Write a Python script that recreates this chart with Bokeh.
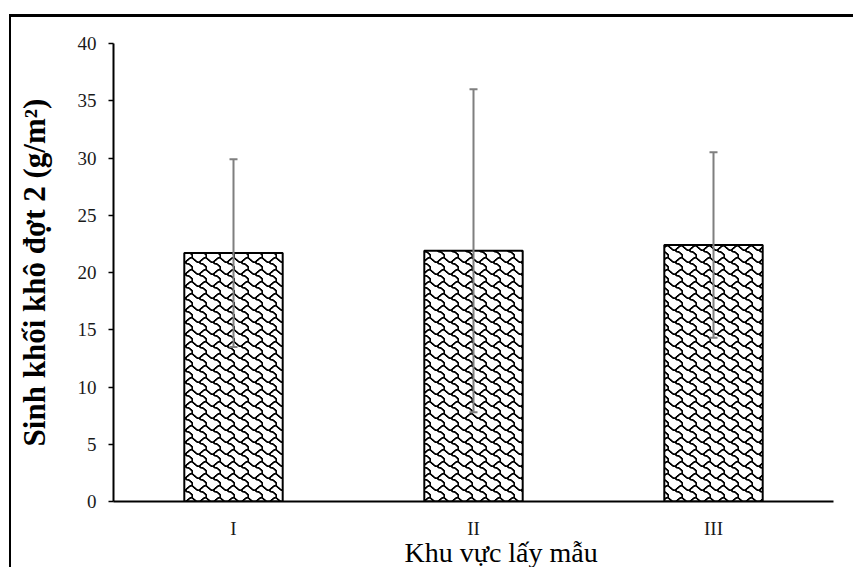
import numpy as np
from bokeh.core.properties import value
from bokeh.embed import file_html
from bokeh.models import (CanvasTexture, ColumnDataSource, FactorRange,
                          TeeHead, Title, Whisker)
from bokeh.plotting import figure
from bokeh.resources import INLINE

# ---- data ----
categories = ["I", "II", "III"]
means = [21.7, 21.9, 22.4]
errors = [8.2, 14.1, 8.1]
y_ticks = [0, 5, 10, 15, 20, 25, 30, 35, 40]
y_label = "Sinh khối khô đợt 2 (g/m²)"
x_label = "Khu vực lấy mẫu"


# ---- shingle hatch tile (alpha mask) ----
def shingle_alpha(tw=14, th=12, half=0.72, ss=4):
    sx, sy = tw / 8.0, th / 8.0
    paths = [
        [(-0.5, 0.5), (0.5, 1.5), (1.5, 2.5), (2.5, 3.5), (3.5, 3.5),
         (4.5, 2.5), (5.5, 1.5), (6.5, 0.5), (7.5, 0.5)],
        [(3.5, 3.5), (4.5, 4.5), (5.5, 4.5), (6.5, 5.5), (7.5, 6.5),
         (7.5, 7.5), (7.5, 8.5)],
    ]
    segs = []
    for path in paths:
        for (x0, y0), (x1, y1) in zip(path[:-1], path[1:]):
            for ox in (-tw, 0, tw):
                for oy in (-th, 0, th):
                    segs.append((x0 * sx + ox, y0 * sy + oy,
                                 x1 * sx + ox, y1 * sy + oy))
    ys, xs = np.mgrid[0:th * ss, 0:tw * ss]
    px = (xs + 0.5) / ss
    py = (ys + 0.5) / ss
    dmin = np.full(px.shape, 1e9)
    for x0, y0, x1, y1 in segs:
        dx, dy = x1 - x0, y1 - y0
        L = dx * dx + dy * dy
        t = np.clip(((px - x0) * dx + (py - y0) * dy) / (L if L else 1), 0, 1)
        d = np.hypot(px - (x0 + t * dx), py - (y0 + t * dy))
        dmin = np.minimum(dmin, d)
    cov = (dmin < half).astype(float)
    cov = cov.reshape(th, ss, tw, ss).mean(axis=(1, 3))
    return np.clip(cov * 1.35, 0, 1)


TW, TH = 14, 12
amask = (shingle_alpha(TW, TH) * 255).astype(int)
js = (
    "var w=%d,h=%d;ctx.canvas.width=w;ctx.canvas.height=h;"
    "var a=[%s];var img=ctx.createImageData(w,h);"
    "for(var i=0;i<w*h;i++){img.data[4*i+3]=a[i];}"
    "ctx.putImageData(img,0,0);" % (TW, TH, ",".join(map(str, amask.ravel())))
)
texture = CanvasTexture(code=js, repetition="repeat")

source = ColumnDataSource(dict(
    x=categories,
    top=means,
    upper=[m + e for m, e in zip(means, errors)],
    lower=[m - e for m, e in zip(means, errors)],
))

p = figure(
    x_range=FactorRange(*categories, range_padding=0),
    y_range=(0, 40),
    frame_width=720, frame_height=458,
    min_border_left=102, min_border_right=20,
    min_border_top=26, min_border_bottom=66,
    output_backend="svg", toolbar_location=None,
    background_fill_color="white", border_fill_color="white",
)
p.styles = {
    "border-top": "3px solid #000",
    "border-left": "2px solid #000",
    "margin-top": "14px",
    "margin-left": "9px",
    "margin-bottom": "-30px",
}
p.outline_line_color = None
p.grid.grid_line_color = None

p.vbar(x="x", top="top", width=0.41, source=source,
       fill_color="white", line_color="black", line_width=2,
       hatch_pattern=value("shingle"), hatch_scale=12, hatch_color="black",
       hatch_extra={"shingle": texture})

grey = "#7f7f7f"
p.add_layout(Whisker(
    base="x", upper="upper", lower="lower", source=source,
    line_color=grey, line_width=2, level="annotation",
    upper_head=TeeHead(size=8, line_color=grey, line_width=2),
    lower_head=TeeHead(size=8, line_color=grey, line_width=2),
))

font = "Liberation Serif"
# y axis
ya = p.yaxis[0]
ya.ticker = y_ticks
ya.axis_line_width = 2
ya.axis_line_color = "black"
ya.major_tick_out = 5
ya.major_tick_in = 0
ya.major_tick_line_width = 1.5
ya.minor_tick_line_color = None
ya.major_label_text_font = font
ya.major_label_text_font_size = "19px"
ya.major_label_text_color = "#1a1a1a"
ya.major_label_standoff = 12
ya.axis_label = y_label
ya.axis_label_text_font = font
ya.axis_label_text_font_style = "bold"
ya.axis_label_text_font_size = "31px"
ya.axis_label_text_color = "black"
ya.axis_label_standoff = 23

# x axis
xa = p.xaxis[0]
xa.axis_line_width = 2
xa.axis_line_color = "black"
xa.major_tick_line_color = None
xa.major_tick_out = 0
xa.major_tick_in = 0
xa.minor_tick_line_color = None
xa.major_label_text_font = font
xa.major_label_text_font_size = "19px"
xa.major_label_text_color = "#1a1a1a"
xa.major_label_standoff = 16

xt = Title(text=x_label, align="left", offset=291,
           text_font=font, text_font_size="28px",
           text_font_style="normal", text_color="black")
try:
    xt.standoff = -13
except ValueError:
    xt.standoff = 0
    xa.major_label_standoff = 12
p.add_layout(xt, "below")

open("out.html", "w").write(file_html(p, INLINE))
